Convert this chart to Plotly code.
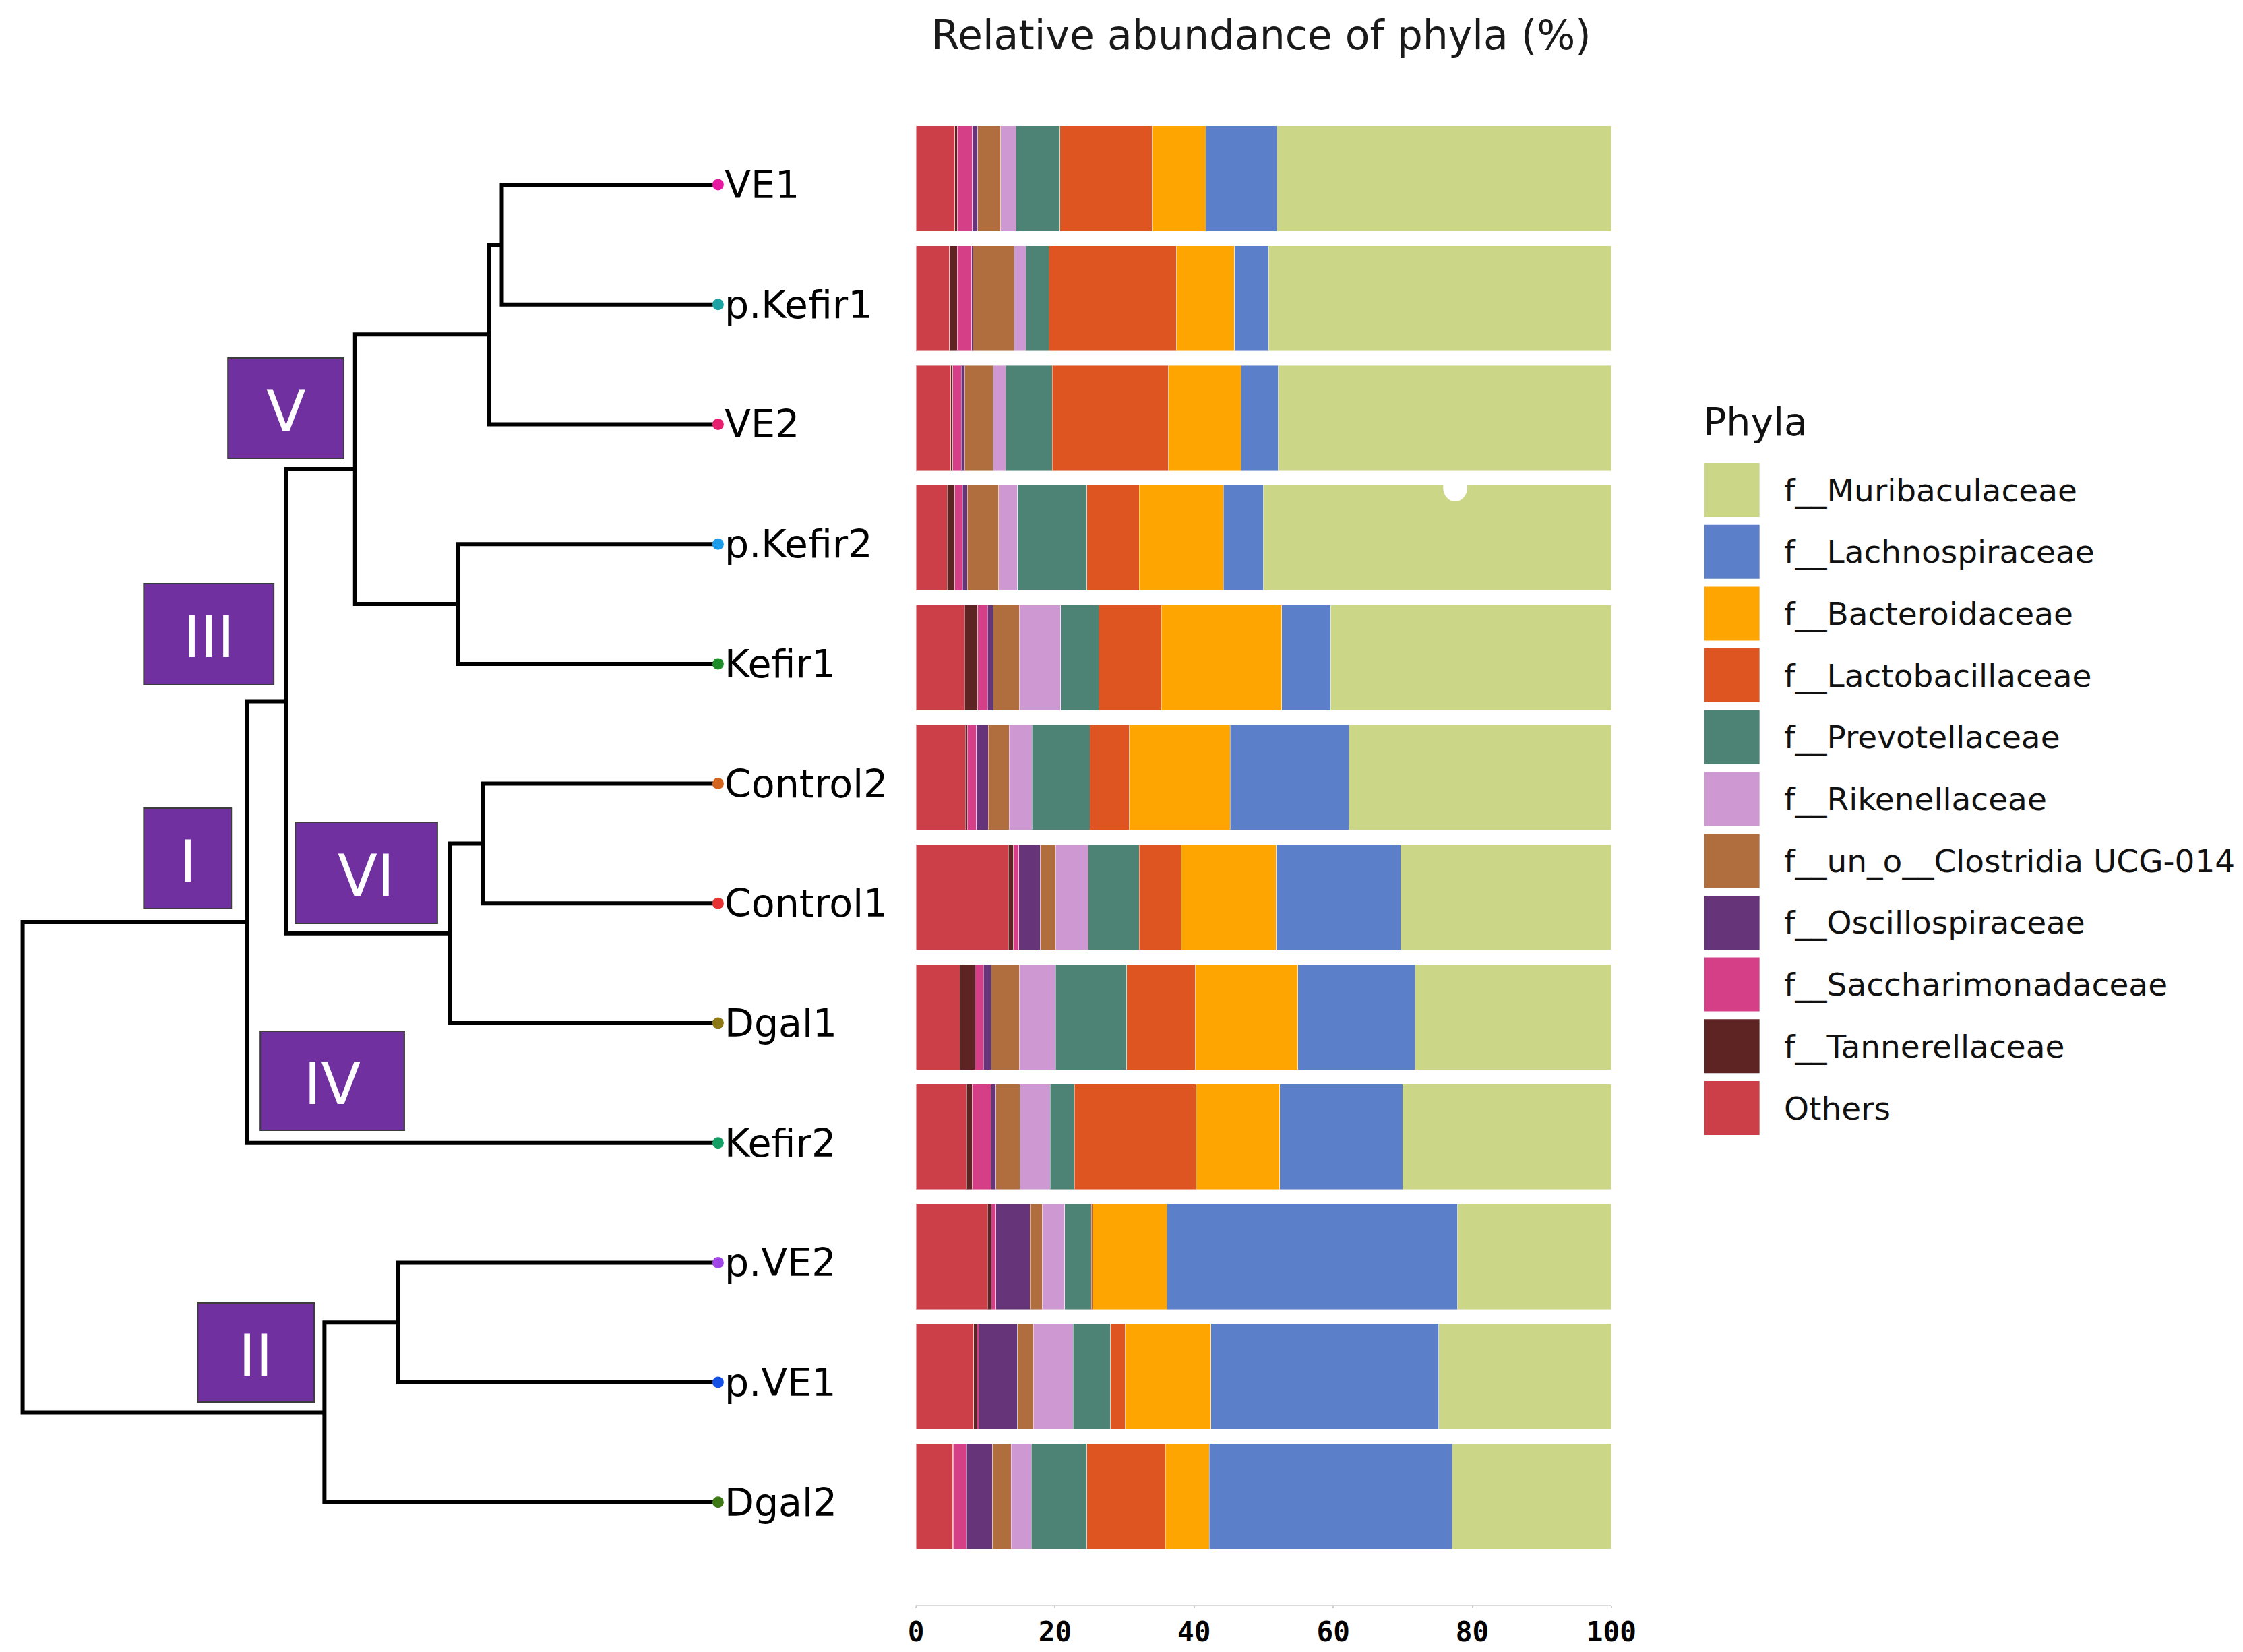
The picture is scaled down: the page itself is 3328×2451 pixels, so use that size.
import plotly.graph_objects as go

W, H = 3328, 2451

# ---------------- data ----------------
samples = ["VE1", "p.Kefir1", "VE2", "p.Kefir2", "Kefir1", "Control2",
           "Control1", "Dgal1", "Kefir2", "p.VE2", "p.VE1", "Dgal2"]

# stacked from left (Others) to right (Muribaculaceae), % per sample
others             = [5.6, 4.8, 5.0, 4.5, 7.0, 7.1, 13.3, 6.3, 7.3, 10.3, 8.3, 5.3]
tannerellaceae     = [0.4, 1.2, 0.3, 1.1, 1.9, 0.3, 0.7, 2.2, 0.8, 0.5, 0.5, 0.1]
saccharimonadaceae = [2.1, 2.0, 1.2, 1.1, 1.4, 1.3, 0.8, 1.2, 2.7, 0.7, 0.3, 1.9]
oscillospiraceae   = [0.8, 0.2, 0.5, 0.7, 0.8, 1.7, 3.1, 1.1, 0.7, 4.9, 5.5, 3.7]
clostridia_ucg014  = [3.3, 5.9, 4.1, 4.5, 3.8, 3.0, 2.2, 4.1, 3.5, 1.8, 2.3, 2.7]
rikenellaceae      = [2.2, 1.7, 1.8, 2.7, 5.9, 3.3, 4.7, 5.2, 4.3, 3.2, 5.7, 2.9]
prevotellaceae     = [6.3, 3.3, 6.7, 10.0, 5.5, 8.3, 7.3, 10.2, 3.5, 3.8, 5.4, 8.0]
lactobacillaceae   = [13.3, 18.4, 16.7, 7.5, 9.0, 5.7, 6.0, 9.9, 17.5, 0.2, 2.1, 11.3]
bacteroidaceae     = [7.7, 8.3, 10.5, 12.1, 17.3, 14.5, 13.7, 14.7, 12.0, 10.7, 12.3, 6.3]
lachnospiraceae    = [10.2, 4.9, 5.3, 5.8, 7.0, 17.1, 17.9, 16.9, 17.7, 41.8, 32.8, 34.9]
muribaculaceae     = [48.1, 49.3, 47.9, 50.0, 40.4, 37.7, 30.3, 28.2, 30.0, 22.1, 24.8, 22.9]

stack_names = ["Others", "f__Tannerellaceae", "f__Saccharimonadaceae", "f__Oscillospiraceae",
               "f__un_o__Clostridia UCG-014", "f__Rikenellaceae", "f__Prevotellaceae",
               "f__Lactobacillaceae", "f__Bacteroidaceae", "f__Lachnospiraceae", "f__Muribaculaceae"]
stack_values = [others, tannerellaceae, saccharimonadaceae, oscillospiraceae, clostridia_ucg014,
                rikenellaceae, prevotellaceae, lactobacillaceae, bacteroidaceae, lachnospiraceae,
                muribaculaceae]
stack_colors = ["#CC3E48", "#5E2424", "#D43F88", "#663478", "#B06D3D", "#CE98D2",
                "#4C8374", "#DF5522", "#FFA502", "#5B7FC8", "#CBD686"]

x_ticks = [0, 20, 40, 60, 80, 100]

# dendrogram: (child_a, child_b, merge height); "n#" refers to the k-th earlier merge
merges = [
    ("VE1", "p.Kefir1", 0.311),      # n0
    ("n0", "VE2", 0.329),            # n1
    ("p.Kefir2", "Kefir1", 0.374),   # n2
    ("n1", "n2", 0.522),             # n3  (V)
    ("Control2", "Control1", 0.338), # n4
    ("n4", "Dgal1", 0.386),          # n5  (VI)
    ("n3", "n5", 0.621),             # n6  (III)
    ("n6", "Kefir2", 0.677),         # n7  (I)
    ("p.VE2", "p.VE1", 0.460),       # n8
    ("n8", "Dgal2", 0.566),          # n9  (II)
    ("n7", "n9", 1.000),             # root
]
leaf_colors = ["#E619A0", "#1BA3A3", "#E6206E", "#1E9BE6", "#1E8C28", "#D2641E",
               "#E63232", "#8C7814", "#14A064", "#A046E6", "#1450E6", "#3C7814"]

cluster_labels = ["V", "III", "I", "VI", "IV", "II"]
# box extents in pixels (x0, x1, y0, y1)
cluster_boxes = [(337, 509, 531, 680), (212, 405, 866, 1016), (212, 342, 1199, 1348),
                 (437, 648, 1220, 1370), (385, 599, 1530, 1677), (292, 465, 1933, 2080)]

legend_order = ["f__Muribaculaceae", "f__Lachnospiraceae", "f__Bacteroidaceae",
                "f__Lactobacillaceae", "f__Prevotellaceae", "f__Rikenellaceae",
                "f__un_o__Clostridia UCG-014", "f__Oscillospiraceae",
                "f__Saccharimonadaceae", "f__Tannerellaceae", "Others"]

# ---------------- layout helpers ----------------
# horizontal correction measured from the rendered picture (render = SX*x + OX)
SX, OX = 0.9864, 10.4

def cx(t):
    return (t - OX) / SX

def px_x(x):
    return cx(x) / W

def px_y(y):
    return 1 - y / H

FONT = "DejaVu Sans"

fig = go.Figure()

# stacked bars
for name, vals, col in zip(stack_names, stack_values, stack_colors):
    fig.add_trace(go.Bar(
        y=samples, x=vals, orientation="h", name=name,
        marker=dict(color=col, line=dict(color="rgba(255,255,255,0.45)", width=1)),
        showlegend=False, xaxis="x", yaxis="y"))

# dendrogram
ypos = {s: i for i, s in enumerate(samples)}
hgt = {s: 0.0 for s in samples}
lx, ly = [], []
for k, (a, b, h) in enumerate(merges):
    ya, yb = ypos[a], ypos[b]
    ha, hb = hgt[a], hgt[b]
    lx += [ha, h, h, hb, None]
    ly += [ya, ya, yb, yb, None]
    node = "n%d" % k
    ypos[node] = (ya + yb) / 2
    hgt[node] = h

fig.add_trace(go.Scatter(x=lx, y=ly, mode="lines", line=dict(color="black", width=6),
                         showlegend=False, xaxis="x2", yaxis="y2", hoverinfo="skip"))
fig.add_trace(go.Scatter(x=[0] * len(samples), y=list(range(len(samples))), mode="markers",
                         marker=dict(color=leaf_colors, size=17), cliponaxis=False,
                         showlegend=False, xaxis="x2", yaxis="y2"))

annotations = []
for i, s in enumerate(samples):
    annotations.append(dict(x=0, y=i, xref="x2", yref="y2", text=s, showarrow=False,
                            xanchor="left", yanchor="middle", xshift=8,
                            font=dict(family=FONT, size=57, color="black")))

shapes = []
for lab, (x0, x1, y0, y1) in zip(cluster_labels, cluster_boxes):
    shapes.append(dict(type="rect", xref="paper", yref="paper",
                       x0=px_x(x0), x1=px_x(x1), y0=px_y(y1), y1=px_y(y0),
                       fillcolor="#7030A0", line=dict(color="#3c3c3c", width=2), layer="above"))
    annotations.append(dict(x=px_x((x0 + x1) / 2), y=px_y((y0 + y1) / 2 + 4),
                            xref="paper", yref="paper", text=lab, showarrow=False,
                            xanchor="center", yanchor="middle",
                            font=dict(family=FONT, size=86, color="white")))

# white speck on the p.Kefir2 bar
shapes.append(dict(type="circle", xref="paper", yref="paper",
                   x0=px_x(2142), x1=px_x(2178), y0=px_y(744), y1=px_y(703),
                   fillcolor="white", line=dict(width=0), layer="above"))

# custom legend
annotations.append(dict(x=px_x(2526), y=px_y(626), xref="paper", yref="paper", text="Phyla",
                        showarrow=False, xanchor="left", yanchor="middle",
                        font=dict(family=FONT, size=57, color="#111")))
for i, name in enumerate(legend_order):
    col = stack_colors[stack_names.index(name)]
    cy = 727 + i * 91.7
    shapes.append(dict(type="rect", xref="paper", yref="paper",
                       x0=px_x(2530), x1=px_x(2612), y0=px_y(cy + 40), y1=px_y(cy - 40),
                       fillcolor=col, line=dict(width=0)))
    annotations.append(dict(x=px_x(2646), y=px_y(cy), xref="paper", yref="paper", text=name,
                            showarrow=False, xanchor="left", yanchor="middle",
                            font=dict(family=FONT, size=47, color="#111")))

# title
annotations.append(dict(x=px_x(1872), y=px_y(52), xref="paper", yref="paper",
                        text="Relative abundance of phyla (%)", showarrow=False,
                        xanchor="center", yanchor="middle",
                        font=dict(family=FONT, size=60, color="#1a1a1a")))

bar_top, bar_bot = 176.2, 2381
yr = [11.907, -0.5]

# dendrogram x-axis: leaf tips at 1065 px, root at 32 px
leaf_px, root_px, right_px = 1065.0, 32.0, 1096.0
unit = leaf_px - root_px
d_left = (leaf_px - (SX * 0 + OX)) / unit
d_right = (leaf_px - right_px) / unit

fig.update_layout(
    width=W, height=H, autosize=False,
    margin=dict(l=0, r=0, t=0, b=0, pad=0),
    paper_bgcolor="white", plot_bgcolor="white",
    barmode="stack", bargap=0.12,
    xaxis=dict(domain=[px_x(1359), px_x(2392)], range=[0, 100], anchor="y",
               tickvals=x_ticks, ticktext=[str(t) for t in x_ticks],
               showgrid=False, zeroline=False, showline=True, linecolor="#dadada", linewidth=2,
               ticks="outside", ticklen=3, tickwidth=2, tickcolor="#d0d0d0",
               tickfont=dict(family="DejaVu Sans Mono", size=41, color="black", weight="bold")),
    yaxis=dict(domain=[px_y(bar_bot), px_y(bar_top)], type="category",
               categoryorder="array", categoryarray=samples, range=yr, anchor="x",
               showticklabels=False, showgrid=False, zeroline=False, showline=False, ticks=""),
    xaxis2=dict(domain=[0, px_x(right_px)], range=[d_left, d_right], anchor="y2",
                visible=False, showgrid=False, zeroline=False),
    yaxis2=dict(domain=[px_y(bar_bot + 9), px_y(bar_top + 9)], range=yr, anchor="x2",
                visible=False, showgrid=False, zeroline=False),
    shapes=shapes, annotations=annotations,
)

fig.write_html("out.html", config={"displayModeBar": False},
               post_script="document.body.style.margin='0';")
